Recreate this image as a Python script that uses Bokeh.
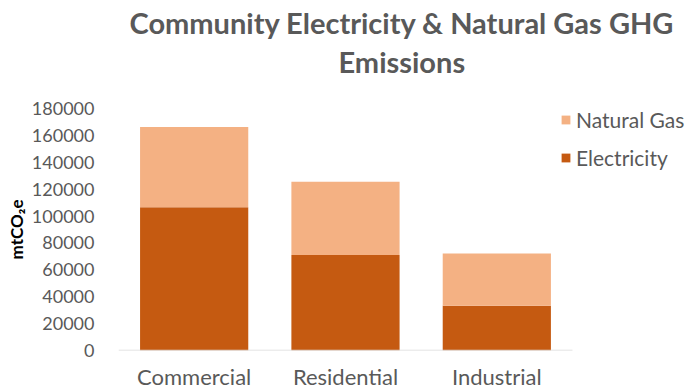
from bokeh.plotting import figure
from bokeh.models import Range1d, Legend, LegendItem, FixedTicker, Title, NumeralTickFormatter, ColumnDataSource
from bokeh.embed import file_html
from bokeh.resources import INLINE

categories = ["Commercial", "Residential", "Industrial"]
electricity = [106500, 71000, 33300]
natural_gas = [59800, 54600, 38800]
y_ticks = [0, 20000, 40000, 60000, 80000, 100000, 120000, 140000, 160000, 180000]

GRAY = "#595959"
FONT = "Lato"

xpos = list(range(len(categories)))
n = len(categories)

p = figure(x_range=Range1d(-0.5, 3.346), y_range=Range1d(0, 180000),
           width=700, height=392, output_backend="svg", toolbar_location=None,
           min_border_left=118, min_border_right=0, min_border_top=107, min_border_bottom=41)
p.outline_line_color = None
p.xgrid.grid_line_color = None
p.ygrid.grid_line_color = None

src = ColumnDataSource(dict(x=xpos, Electricity=electricity, NaturalGas=natural_gas))
rs = p.vbar_stack(["Electricity", "NaturalGas"], x="x", width=0.715, source=src,
                  color=["#C55A11", "#F4B183"], line_color=None)
# category axis baseline (spans the category slots only)
p.segment(x0=[-0.5], x1=[n - 0.5], y0=[0], y1=[0], line_color="#D9D9D9", line_width=1.5)

p.yaxis.ticker = FixedTicker(ticks=y_ticks)
p.yaxis.formatter = NumeralTickFormatter(format="0")
p.yaxis.axis_line_color = None
p.yaxis.major_tick_line_color = None
p.yaxis.minor_tick_line_color = None
p.yaxis.major_label_standoff = 18
p.yaxis.major_label_text_font = FONT
p.yaxis.major_label_text_font_size = "18px"
p.yaxis.major_label_text_color = GRAY
p.yaxis.axis_label = "mtCO₂e"
p.yaxis.axis_label_text_font = FONT
p.yaxis.axis_label_text_font_style = "bold"
p.yaxis.axis_label_text_font_size = "17px"
p.yaxis.axis_label_text_color = "#000000"
p.yaxis.axis_label_standoff = 2

p.xaxis.ticker = FixedTicker(ticks=xpos)
p.xaxis.major_label_overrides = {i: c for i, c in zip(xpos, categories)}
p.xaxis.axis_line_color = None
p.xaxis.major_tick_line_color = None
p.xaxis.minor_tick_line_color = None
p.xaxis.major_label_standoff = 6
p.xaxis.major_label_text_font = FONT
p.xaxis.major_label_text_font_size = "22px"
p.xaxis.major_label_text_color = GRAY

p.add_layout(Title(text=" ", text_font_size="1px", standoff=27), "above")
p.add_layout(Title(text="Emissions", align="left", offset=220, text_font=FONT,
                   text_font_style="bold", text_font_size="29px", text_color=GRAY, standoff=0), "above")
p.add_layout(Title(text="Community Electricity & Natural Gas GHG", align="left", offset=11,
                   text_font=FONT, text_font_style="bold", text_font_size="29px",
                   text_color=GRAY, standoff=4), "above")

legend = Legend(items=[LegendItem(label="Natural Gas", renderers=[rs[1]]),
                       LegendItem(label="Electricity", renderers=[rs[0]])],
                location=(442, 180), orientation="vertical",
                glyph_width=11, glyph_height=11, label_text_font=FONT,
                label_text_font_size="21px", label_text_color=GRAY,
                spacing=13, padding=0, margin=0, border_line_color=None,
                background_fill_alpha=0, label_standoff=5)
p.add_layout(legend, "center")

open("out.html", "w").write(file_html(p, INLINE))
